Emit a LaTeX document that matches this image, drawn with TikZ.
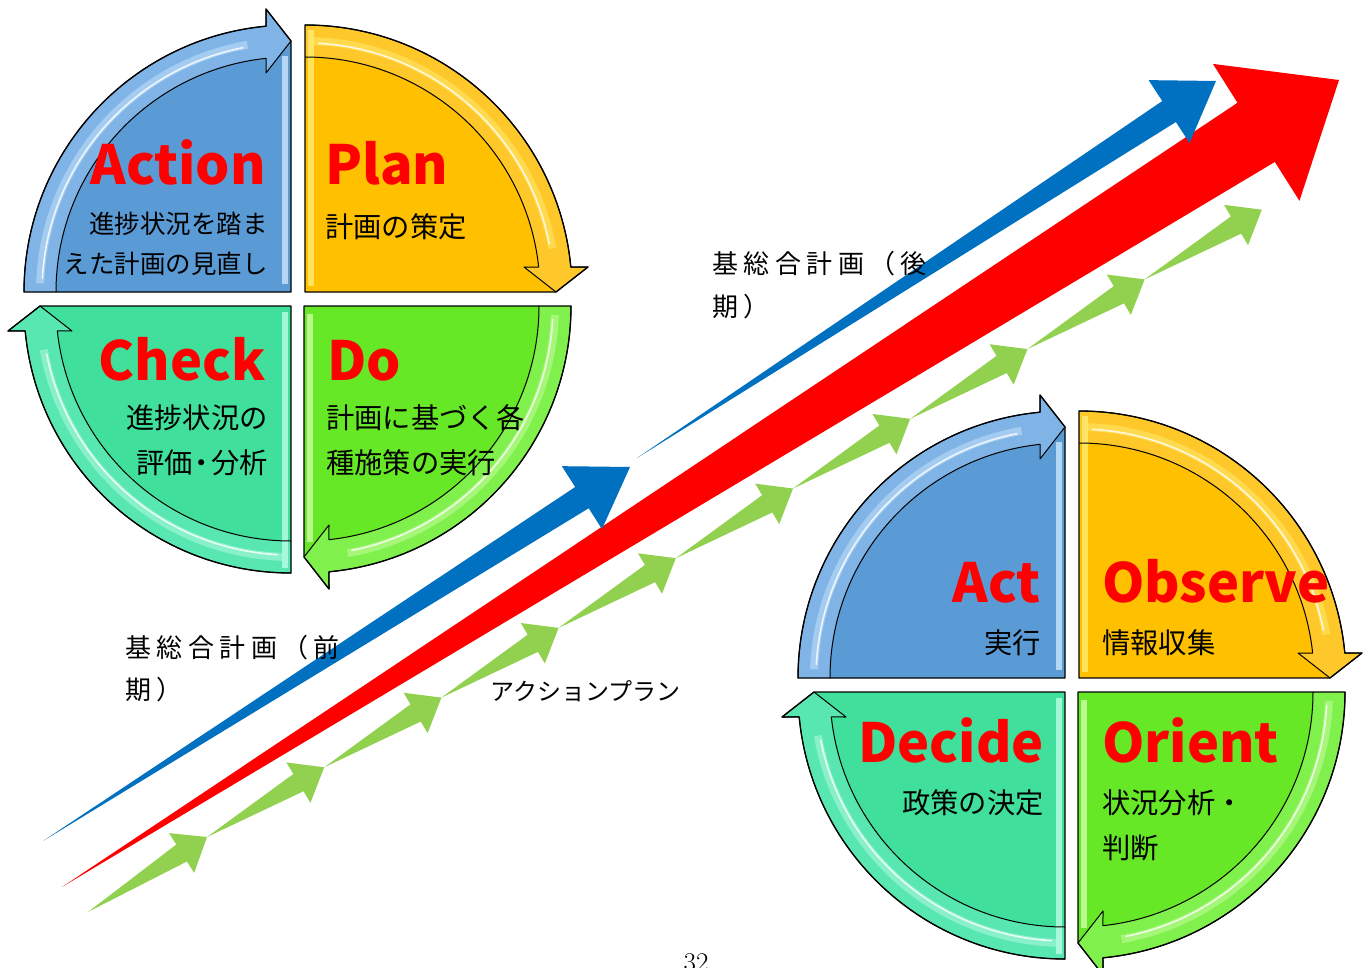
\documentclass[tikz,border=0pt]{standalone}
\usepackage{fontspec}
\usetikzlibrary{calc}
\newfontfamily\jp{Noto Sans CJK JP}
\newfontfamily\jpwide{Noto Sans CJK JP}[LetterSpace=21]

\definecolor{wordred}{HTML}{FF0000}
\definecolor{arrowred}{HTML}{FF0000}
\definecolor{arrowblue}{HTML}{0070C0}
\definecolor{arrowgreen}{HTML}{92D050}
% quadrant fills, band fills and gloss tints
\definecolor{qblue}{HTML}{5B9BD5}
\definecolor{qblueband}{HTML}{80B4E6}
\definecolor{qbluegloss}{HTML}{D2EAFF}
\definecolor{qorange}{HTML}{FFC000}
\definecolor{qorangeband}{HTML}{FFC82A}
\definecolor{qorangegloss}{HTML}{FFF07A}
\definecolor{qgreen}{HTML}{66E826}
\definecolor{qgreenband}{HTML}{7FF04C}
\definecolor{qgreengloss}{HTML}{D6FFB2}
\definecolor{qteal}{HTML}{40E09C}
\definecolor{qtealband}{HTML}{58E7B0}
\definecolor{qtealgloss}{HTML}{C4FFEA}

\tikzset{
  word/.style={font={\jp\bfseries\fontsize{54}{58}\selectfont}, text=wordred, inner sep=0pt},
  note/.style={font={\jp\fontsize{28.3}{31}\selectfont}, inner sep=0pt},
  smallnote/.style={font={\jp\fontsize{25.5}{28}\selectfont}, inner sep=0pt},
  planlabel/.style={font={\jpwide\fontsize{26}{30}\selectfont}, inner sep=0pt},
  katakana/.style={font={\jp\fontsize{24}{28}\selectfont}, inner sep=0pt},
}

% tapered arrow: #1 tail, #2 tip, #3 head length, #4 head half width,
% #5 shaft half width at the head, #6 colour
\newcommand\taper[6]{%
  \fill[#6] (#1)
    -- ($(#2)!#3!(#1)!#5!90:(#2)$)
    -- ($(#2)!#3!(#1)!#4!90:(#2)$)
    -- (#2)
    -- ($(#2)!#3!(#1)!#4!-90:(#2)$)
    -- ($(#2)!#3!(#1)!#5!-90:(#2)$)
    -- cycle;}

% one quarter of a cycle; local frame: corner at origin, quarter between
% 90 and 180 degrees, curved band running clockwise into an arrow head.
% #1 corner, #2 rotation, #3 fill, #4 band, #5 gloss, #6 edge stripe
\newcommand\cyclequad[6]{%
  \begin{scope}[shift={#1},rotate=#2]
    \fill[#3] (0,0) -- (-267,0) arc[start angle=180,end angle=95.37,radius=267]
      -- (-25,283) -- (0,251) -- cycle;
    \fill[#4] (-267,0) arc[start angle=180,end angle=95.37,radius=267]
      -- (-25,283) -- (0,251) -- (-25,219) -- (96.1:235)
      arc[start angle=96.1,end angle=180,radius=235] -- cycle;
    \draw[#5, line width=8pt, opacity=.45] (178:251) arc[start angle=178,end angle=100,radius=251];
    \draw[white, line width=1.6pt, opacity=.8] (177:249) arc[start angle=177,end angle=101,radius=249];
    \fill[#5, opacity=.75] #6;
    \draw[black, line width=1pt, line join=round] (-267,0)
      arc[start angle=180,end angle=95.37,radius=267]
      -- (-25,283) -- (0,251) -- (-25,219) -- (96.1:235)
      arc[start angle=96.1,end angle=180,radius=235];
    \draw[black, line width=1.3pt, line join=round] (0,0) -- (-267,0)
      arc[start angle=180,end angle=95.37,radius=267]
      -- (-25,283) -- (0,251) -- cycle;
  \end{scope}}

\begin{document}
\begin{tikzpicture}[x=1pt,y=1pt]
\useasboundingbox (0,0) rectangle (1370,-968);
\fill[white] (0,0) rectangle (1370,-968);

% ---- long arrows ----
\coordinate (redT) at (62,-887);
\coordinate (redH) at (1339,-80);
\taper{redT}{redH}{98pt}{81pt}{35pt}{arrowred}

\coordinate (g0) at (88,-912);
\coordinate (g1) at (207,-837);
\coordinate (g2) at (324.2,-767.3);
\coordinate (g3) at (441.4,-697.6);
\coordinate (g4) at (558.6,-627.9);
\coordinate (g5) at (675.8,-558.2);
\coordinate (g6) at (793,-488.5);
\coordinate (g7) at (910.2,-418.8);
\coordinate (g8) at (1027.4,-349.1);
\coordinate (g9) at (1144.6,-279.4);
\coordinate (g10) at (1261.8,-209.7);
\foreach \i [evaluate=\i as \j using int(\i-1)] in {1,...,10}
  {\taper{g\j}{g\i}{30pt}{23.5pt}{10pt}{arrowgreen}}

\coordinate (earlyT) at (43,-841);
\coordinate (earlyH) at (630,-467);
\taper{earlyT}{earlyH}{57pt}{37.3pt}{12.6pt}{arrowblue}
\coordinate (lateT) at (637,-458);
\coordinate (lateH) at (1216,-81);
\taper{lateT}{lateH}{56pt}{37.5pt}{12.5pt}{arrowblue}

% ---- PDCA cycle ----
\cyclequad{(291,-292)}{0}{qblue}{qblueband}{qbluegloss}{(-9,8) rectangle (-3,236)}
\cyclequad{(305,-292)}{-90}{qorange}{qorangeband}{qorangegloss}{(-262,3) rectangle (-6,9)}
\cyclequad{(304,-306)}{180}{qgreen}{qgreenband}{qgreengloss}{(-9,8) rectangle (-3,236)}
\cyclequad{(291,-306)}{90}{qteal}{qtealband}{qtealgloss}{(-262,3) rectangle (-6,9)}

% ---- OODA cycle ----
\cyclequad{(1065,-678)}{0}{qblue}{qblueband}{qbluegloss}{(-9,8) rectangle (-3,236)}
\cyclequad{(1079,-678)}{-90}{qorange}{qorangeband}{qorangegloss}{(-262,3) rectangle (-6,9)}
\cyclequad{(1078,-692)}{180}{qgreen}{qgreenband}{qgreengloss}{(-9,8) rectangle (-3,236)}
\cyclequad{(1065,-692)}{90}{qteal}{qtealband}{qtealgloss}{(-262,3) rectangle (-6,9)}

% ---- PDCA texts ----
\node[word, anchor=base east] (action) at (266,-185) {Action};
\node[smallnote, anchor=east] (actionA) at (268,-224) {進捗状況を踏ま};
\node[smallnote, anchor=east] (actionB) at (268,-264) {えた計画の見直し};
\node[word, anchor=base west] (plan) at (325,-185) {Plan};
\node[note, anchor=west] (planA) at (325,-227) {計画の策定};
\node[word, anchor=base east] (check) at (266,-380) {Check};
\node[note, anchor=east] (checkA) at (268,-418) {進捗状況の};
\node[note, anchor=east] (checkB) at (268,-463) {評価\kern-5pt・\kern-5pt分析};
\node[word, anchor=base west] (do) at (327,-380) {Do};
\node[note, anchor=west] (doA) at (326,-418) {計画に基づく各};
\node[note, anchor=west] (doB) at (326,-463) {種施策の実行};

% ---- OODA texts ----
\node[word, anchor=base east] (act) at (1041,-602) {Act};
\node[note, anchor=east] (actA) at (1041,-643) {実行};
\node[word, anchor=base west] (observe) at (1102,-602) {Observe};
\node[note, anchor=west] (observeA) at (1102,-643) {情報収集};
\node[word, anchor=base east] (decide) at (1044,-762) {Decide};
\node[note, anchor=east] (decideA) at (1044,-803) {政策の決定};
\node[word, anchor=base west] (orient) at (1102,-762) {Orient};
\node[note, anchor=west] (orientA) at (1102,-803) {状況分析・};
\node[note, anchor=west] (orientB) at (1102,-848) {判断};

% ---- arrow labels ----
\node[planlabel, anchor=west] (early1) at (125,-648) {基総合計画（前};
\node[planlabel, anchor=west] (early2) at (125,-690) {期）};
\node[planlabel, anchor=west] (late1) at (712,-264) {基総合計画（後};
\node[planlabel, anchor=west] (late2) at (712,-307) {期）};
\node[katakana, anchor=west] (actionplan) at (490,-691) {アクションプラン};

% page number, running off the lower edge of the page
\node[font=\fontsize{27}{30}\selectfont, anchor=base, inner sep=0pt] (page) at (696,-971) {32};
\end{tikzpicture}
\end{document}
